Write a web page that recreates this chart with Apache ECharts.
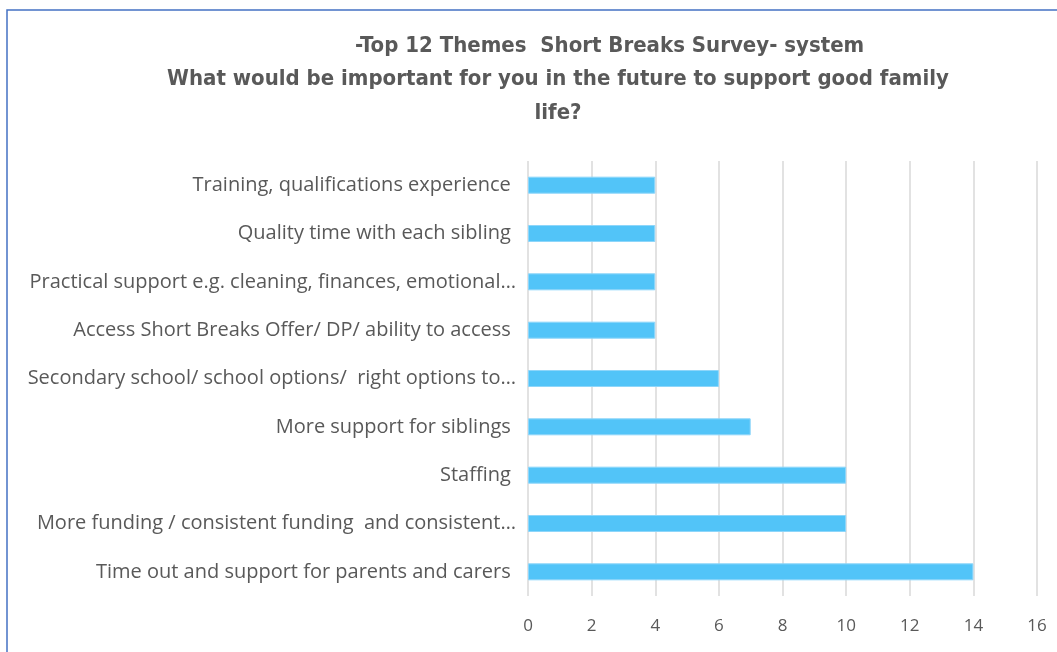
<!DOCTYPE html>
<html>
<head>
<meta charset="utf-8">
<style>
  html, body { margin: 0; padding: 0; background: #fff; }
  #chart { width: 1057px; height: 652px; }
</style>
<script src="https://cdn.jsdelivr.net/npm/echarts@6/dist/echarts.min.js"></script>
</head>
<body>
<div id="chart"></div>
<script>
// bottom to top, as the category axis draws them
const themes = [
  'Time out and support for parents and carers ',
  'More funding / consistent funding  and consistent…',
  'Staffing ',
  'More support for siblings ',
  'Secondary school/ school options/  right options to…',
  'Access Short Breaks Offer/ DP/ ability to access ',
  'Practical support e.g. cleaning, finances, emotional…',
  'Quality time with each sibling ',
  'Training, qualifications experience '
]
const counts = [14, 10, 10, 7, 6, 4, 4, 4, 4]
const xTicks = [0, 2, 4, 6, 8, 10, 12, 14, 16]

const titleLine1 = '-Top 12 Themes  Short Breaks Survey- system'
const titleLine2 = 'What would be important for you in the future to support good family\nlife?'

const chart = echarts.init(document.getElementById('chart'))

const titleStyle = {
  color: '#595959',
  fontSize: 22,
  fontWeight: 'bold',
  fontFamily: '"DejaVu Sans Condensed", "DejaVu Sans", sans-serif',
  lineHeight: 34
}

chart.setOption({
  animation: false,
  title: [{
    text: titleLine1,
    left: 350,
    top: 24,
    textStyle: titleStyle
  }, {
    text: titleLine2,
    left: 553,
    textAlign: 'center',
    top: 57,
    textStyle: titleStyle
  }],
  graphic: [{
    type: 'rect',
    shape: { x: 7, y: 10, width: 1100, height: 700 },
    style: { fill: 'none', stroke: '#4472C4', lineWidth: 1.5 }
  }],
  grid: {
    left: 528,
    right: 20,
    top: 161,
    bottom: 56
  },
  xAxis: {
    type: 'value',
    min: 0,
    max: 16,
    interval: 2,
    axisLine: { show: false },
    axisTick: { show: false },
    axisLabel: {
      color: '#595959',
      fontSize: 17,
      fontFamily: 'Open Sans',
      margin: 22,
      formatter: v => xTicks.includes(v) ? String(v) : ''
    },
    splitLine: { lineStyle: { color: '#d9d9d9', width: 1.5 } }
  },
  yAxis: {
    type: 'category',
    data: themes,
    axisLine: { show: false },
    axisTick: { show: false },
    axisLabel: {
      color: '#595959',
      fontSize: 20,
      fontFamily: 'Open Sans',
      margin: 12
    }
  },
  series: [{
    type: 'bar',
    data: counts,
    barWidth: 17,
    itemStyle: {
      color: '#52C4F8',
      borderColor: '#8ed6fa',
      borderWidth: 1
    }
  }]
})
</script>
</body>
</html>
